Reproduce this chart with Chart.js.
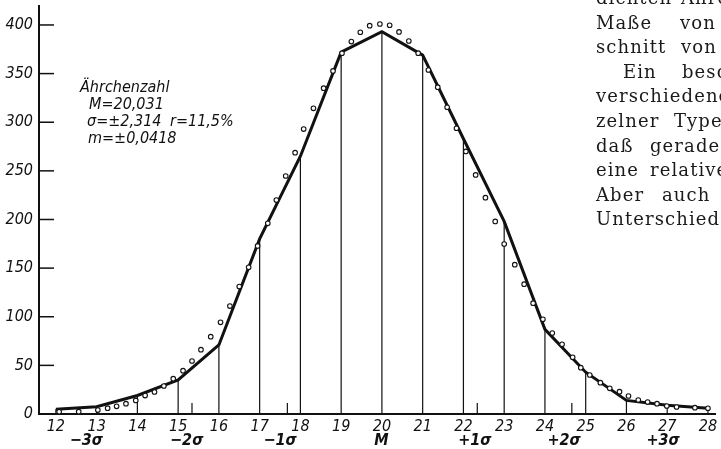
<!DOCTYPE html>
<html>
<head>
<meta charset="utf-8">
<script src="https://cdn.jsdelivr.net/npm/chart.js@4.4.1/dist/chart.umd.min.js"></script>
<style>
    html, body {margin: 0; padding: 0; background: #fff;}
    #wrap {position: relative; width: 721px; height: 449px; overflow: hidden;}
    #myCanvas {position: absolute; left: 0; top: 0;}
    #book {position: absolute; left: 596px; top: -14px; width: 200px; font-family: "DejaVu Serif", serif; font-size: 18px;
        line-height: 24.6px; color: #1a1a1a; white-space: nowrap; letter-spacing: 1.1px;}
    #book div {position: relative; height: 24.6px;}
    #book span {position: absolute; top: 0;}
</style>
</head>
<body>
<div id="wrap">
    <canvas id="myCanvas" width="721" height="449"></canvas>
    <div id="book">
        <div><span style="left:0">dichten</span><span style="left:85px">Ährchen</span></div>
        <div><span style="left:0">Maße</span><span style="left:84px">von</span></div>
        <div><span style="left:0">schnitt</span><span style="left:85px">von</span></div>
        <div><span style="left:27px">Ein</span><span style="left:86px">besonderer</span></div>
        <div><span style="left:0">verschiedener</span></div>
        <div><span style="left:0">zelner</span><span style="left:78px">Typen</span></div>
        <div><span style="left:0">daß</span><span style="left:54px">gerade</span></div>
        <div><span style="left:0">eine</span><span style="left:54px">relative</span></div>
        <div><span style="left:0">Aber</span><span style="left:66px">auch</span></div>
        <div><span style="left:0">Unterschiede</span></div>
    </div>
</div>
<script>
// Ährchenzahl je Klasse (Polygon)
const classes = [12, 13, 14, 15, 16, 17, 18, 19, 20, 21, 22, 23, 24, 25, 26, 27, 28];
const counts = [5, 7.5, 19, 35, 71, 180, 265, 372, 393, 369, 283, 198, 87, 43, 14, 9, 6];

// Punkte der ausgeglichenen Kurve
const curveX = [12.08, 12.56, 13.03, 13.27, 13.49, 13.72, 13.96, 14.19, 14.42, 14.65, 14.88, 15.12, 15.34, 15.56, 15.80,
    16.04, 16.27, 16.50, 16.73, 16.95, 17.20, 17.41, 17.64, 17.87, 18.08, 18.32, 18.57, 18.80, 19.02, 19.25, 19.47,
    19.70, 19.95, 20.19, 20.42, 20.66, 20.89, 21.14, 21.37, 21.60, 21.83, 22.06, 22.30, 22.54, 22.78, 23.00, 23.26,
    23.49, 23.71, 23.95, 24.18, 24.42, 24.68, 24.88, 25.10, 25.36, 25.59, 25.83, 26.05, 26.29, 26.52, 26.75, 26.99,
    27.23, 27.68, 28.00];
const curveY = [2.4, 2.4, 4, 6, 7.9, 10.6, 14, 18.9, 22.6, 28.8, 36.3, 44.5, 54.5, 66.1, 79.5,
    94.3, 111, 131, 150.8, 172.8, 196, 220, 244.7, 268.7, 293, 314.3, 335, 352.7, 370.9, 382.9, 392.5,
    399.3, 401, 399.7, 392.8, 383.5, 371, 353.7, 336, 315.4, 293.8, 270, 245.8, 222.4, 198, 174.8, 153.5,
    133.5, 114, 97.4, 83.3, 71.6, 58.3, 47.6, 40.1, 32.2, 26.4, 23, 18.5, 14.4, 12.3, 10.6, 8.2,
    7.2, 6.5, 5.9];

const yTicks = [0, 50, 100, 150, 200, 250, 300, 350, 400];
const sigmaLabels = ['\u22123\u03c3', '\u22122\u03c3', '\u22121\u03c3', 'M', '+1\u03c3', '+2\u03c3', '+3\u03c3'];
const sigmaLabelPos = [12.75, 15.21, 17.5, 19.99, 22.28, 24.47, 26.9];
const sigmaTicks = [15.34, 17.68, 22.34, 24.66];

const stats = ['\u00c4hrchenzahl', 'M=20,031', '\u03c3=\u00b12,314', 'r=11,5%', 'm=\u00b10,0418'];

const FONT = "'DejaVu Sans Condensed', 'DejaVu Sans', sans-serif";
const INK = '#111';

const figurePlugin = {
    id: 'figure',
    beforeDatasetsDraw(chart) {
        const x = chart.scales.x, y = chart.scales.y, c = chart.ctx;
        const y0 = y.getPixelForValue(0);
        c.save();
        c.strokeStyle = INK;
        // Ordinaten
        c.lineWidth = 1.2;
        classes.forEach(function (k, i) {
            const px = x.getPixelForValue(k);
            c.beginPath();
            c.moveTo(px, y0);
            c.lineTo(px, y.getPixelForValue(counts[i]));
            c.stroke();
        });
        // kurze Striche bei den Sigma-Grenzen
        sigmaTicks.forEach(function (s) {
            const px = x.getPixelForValue(s);
            c.beginPath();
            c.moveTo(px, y0);
            c.lineTo(px, y0 - 11);
            c.stroke();
        });
        // Teilstriche der y-Achse nach innen
        c.lineWidth = 1.5;
        yTicks.forEach(function (v) {
            const py = y.getPixelForValue(v);
            c.beginPath();
            c.moveTo(x.left, py);
            c.lineTo(x.left + 15, py);
            c.stroke();
        });
        c.restore();
    },
    afterDraw(chart) {
        const x = chart.scales.x, c = chart.ctx;
        c.save();
        c.fillStyle = INK;
        c.textBaseline = 'middle';
        c.textAlign = 'center';
        c.font = 'italic bold 16px ' + FONT;
        sigmaLabels.forEach(function (t, i) {
            c.fillText(t, x.getPixelForValue(sigmaLabelPos[i]), 441);
        });
        c.textAlign = 'left';
        c.textBaseline = 'alphabetic';
        c.font = 'italic 16px ' + FONT;
        c.fillText(stats[0], 80, 92);
        c.fillText(stats[1], 89, 109);
        c.fillText(stats[2], 87, 126);
        c.fillText(stats[3], 170, 126);
        c.fillText(stats[4], 88, 143);
        c.restore();
    }
};

const ctx = document.getElementById('myCanvas');
new Chart(ctx, {
    type: 'scatter',
    data: {
        datasets: [{
            type: 'line',
            data: classes.map((k, i) => ({x: k, y: counts[i]})),
            borderColor: INK,
            borderWidth: 3,
            pointRadius: 0,
            tension: 0,
            fill: false,
            order: 2
        }, {
            data: curveX.map((k, i) => ({x: k, y: curveY[i]})),
            pointRadius: 2.3,
            pointBackgroundColor: '#fff',
            pointBorderColor: INK,
            pointBorderWidth: 1.1,
            order: 1
        }]
    },
    options: {
        responsive: false,
        animation: false,
        layout: {padding: {top: 6, right: 0, bottom: 0, left: 0}},
        plugins: {legend: {display: false}, tooltip: {enabled: false}},
        scales: {
            x: {
                type: 'linear',
                min: 11.586,
                max: 28.195,
                afterFit: function (s) {
                    s.height = 35;
                    s.paddingLeft = 0;
                    s.paddingRight = 0;
                },
                grid: {display: false, drawTicks: false},
                border: {color: INK, width: 2},
                ticks: {
                    stepSize: 1, includeBounds: false, autoSkip: false, maxRotation: 0, padding: 3,
                    color: INK, font: {family: FONT, size: 16, style: 'italic'}
                }
            },
            y: {
                min: 0,
                max: 419.5,
                afterFit: function (s) {
                    s.width = 39;
                    s.paddingTop = 0;
                    s.paddingBottom = 0;
                },
                grid: {display: false, drawTicks: false},
                border: {color: INK, width: 2},
                ticks: {
                    stepSize: 50, includeBounds: false, padding: 6,
                    color: INK, font: {family: FONT, size: 16, style: 'italic'}
                }
            }
        }
    },
    plugins: [figurePlugin]
});
</script>
</body>
</html>
